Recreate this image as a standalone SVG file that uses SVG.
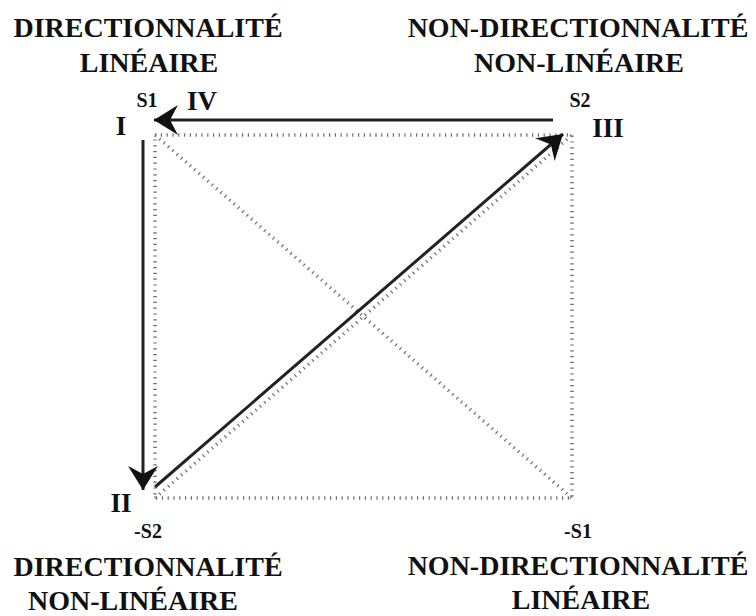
<svg xmlns="http://www.w3.org/2000/svg" width="756" height="616" viewBox="0 0 756 616">
<style>
.t{font-family:"Liberation Serif","Times New Roman",serif;font-weight:bold;fill:#111;text-anchor:middle}
.big{font-size:28px}
.mid{font-size:27px}
.sm{font-size:20px}
.dot{stroke:#6e6e6e;stroke-width:3.5;stroke-dasharray:1.2 4.6;fill:none}
.sol{stroke:#222;stroke-width:3;fill:none}
</style>
<defs>
<marker id="ah" markerUnits="userSpaceOnUse" markerWidth="28" markerHeight="34" viewBox="-26 -17 28 34" refX="0" refY="0" orient="auto">
<path d="M0,0 L-24,-15 L-16,0 L-24,15 Z" fill="#111"/>
</marker>
</defs>
<rect width="756" height="616" fill="#fff"/>
<g id="frame">
<path class="dot" d="M155,135 H572 V498 H155 Z"/>
<path class="dot" d="M155,135 L572,498"/>
<path class="dot" d="M155,498 L572,135"/>
</g>
<g id="connectors">
<line class="sol" x1="553" y1="120" x2="154" y2="120" marker-end="url(#ah)"/>
<line class="sol" x1="143" y1="140" x2="143" y2="490" marker-end="url(#ah)"/>
<line class="sol" x1="155" y1="487" x2="563" y2="134" marker-end="url(#ah)"/>
</g>
<g id="q-tl">
<text class="t big" x="148" y="37">DIRECTIONNALITÉ</text>
<text class="t big" x="149" y="72">LINÉAIRE</text>
</g>
<g id="q-tr">
<text class="t big" x="578" y="37">NON-DIRECTIONNALITÉ</text>
<text class="t big" x="579" y="72">NON-LINÉAIRE</text>
</g>
<g id="q-bl">
<text class="t big" x="148" y="576">DIRECTIONNALITÉ</text>
<text class="t big" x="133" y="610">NON-LINÉAIRE</text>
</g>
<g id="q-br">
<text class="t big" x="578" y="575">NON-DIRECTIONNALITÉ</text>
<text class="t big" x="581" y="609">LINÉAIRE</text>
</g>
<g id="node-I">
<text class="t mid" x="121" y="135">I</text>
<text class="t sm" x="147" y="107">S1</text>
</g>
<g id="node-IV">
<text class="t mid" x="202" y="110">IV</text>
</g>
<g id="node-III">
<text class="t mid" x="608" y="137">III</text>
<text class="t sm" x="580" y="107">S2</text>
</g>
<g id="node-II">
<text class="t mid" x="121" y="512">II</text>
<text class="t sm" x="148" y="538">-S2</text>
</g>
<g id="node-S1neg">
<text class="t sm" x="578" y="538">-S1</text>
</g>
</svg>
